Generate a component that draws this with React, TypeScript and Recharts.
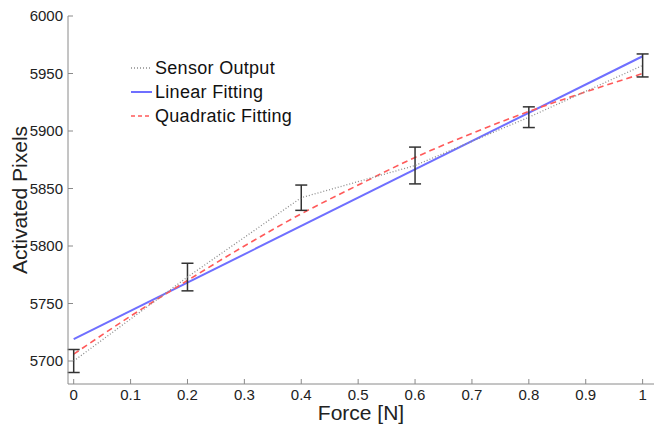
import { ComposedChart, Line, XAxis, YAxis, ErrorBar } from 'recharts';

// force positions where the sensor was sampled
const sensorForce = [0, 0.2, 0.4, 0.6, 0.8, 1];
const sensorOutput = [5700, 5773, 5842, 5870, 5912, 5957];
const sensorError = [10, 12, 11, 16, 9, 10];

// linear fit, read at both ends
const linearForce = [0, 1];
const linearFit = [5719, 5965];

// quadratic fit, read every 0.1 N
const quadForce = [0, 0.1, 0.2, 0.3, 0.4, 0.5, 0.6, 0.7, 0.8, 0.9, 1];
const quadFit = [5706, 5739, 5770, 5800, 5828, 5853, 5877, 5898, 5917, 5934, 5950];

const xTicks = [0, 0.1, 0.2, 0.3, 0.4, 0.5, 0.6, 0.7, 0.8, 0.9, 1];
const yTicks = [5700, 5750, 5800, 5850, 5900, 5950, 6000];

const sensorData = sensorForce.map((f, i) => ({ force: f, value: sensorOutput[i], err: sensorError[i] }));
const linearData = linearForce.map((f, i) => ({ force: f, value: linearFit[i] }));
const quadData = quadForce.map((f, i) => ({ force: f, value: quadFit[i] }));

const FONT = '"Liberation Sans", Arial, sans-serif';
const AXIS = '#8a8a8a';
const TEXT = '#222';

const LEGEND_ITEMS = [
  { label: 'Sensor Output', stroke: '#8c8c8c', dash: '1 2', width: 1.5 },
  { label: 'Linear Fitting', stroke: '#6f6fff', dash: undefined, width: 2 },
  { label: 'Quadratic Fitting', stroke: '#ff5a5a', dash: '4 3', width: 1.5 },
];

function LegendBox() {
  return (
    <div
      style={{
        position: 'absolute',
        left: 130,
        top: 56,
        fontFamily: FONT,
        fontSize: 18,
        color: '#111',
        letterSpacing: 0.3,
        lineHeight: '24px',
      }}
    >
      {LEGEND_ITEMS.map((item) => (
        <div key={item.label} style={{ display: 'flex', alignItems: 'center', height: 24 }}>
          <svg width={24} height={10} style={{ marginRight: 1 }}>
            <line x1={1} y1={5} x2={22} y2={5} stroke={item.stroke} strokeWidth={item.width} strokeDasharray={item.dash} />
          </svg>
          <span>{item.label}</span>
        </div>
      ))}
    </div>
  );
}

export default function App() {
  const tickStyle = { fontSize: 15, fill: TEXT, fontFamily: FONT };
  return (
    <div style={{ position: 'absolute', left: 0, top: 0, width: 655, height: 430, background: '#fff' }}>
      <ComposedChart width={655} height={430} margin={{ top: 16, right: 1, bottom: 0, left: 0 }}>
        <XAxis
          dataKey="force"
          type="number"
          domain={[-0.01, 1.02]}
          ticks={xTicks}
          allowDataOverflow
          height={46}
          tickSize={-5}
          tickMargin={10}
          stroke={AXIS}
          tick={tickStyle}
          tickFormatter={(v) => String(v)}
          label={{ value: 'Force [N]', position: 'insideBottom', offset: 10, fontSize: 21, fill: TEXT, fontFamily: FONT }}
        />
        <XAxis
          xAxisId="top"
          dataKey="force"
          type="number"
          orientation="top"
          domain={[-0.01, 1.02]}
          ticks={xTicks}
          allowDataOverflow
          height={0}
          mirror
          tickSize={5}
          tick={false}
          stroke={AXIS}
        />
        <YAxis
          type="number"
          domain={[5680, 6000]}
          ticks={yTicks}
          allowDataOverflow
          width={68}
          tickSize={-5}
          tickMargin={10}
          stroke={AXIS}
          tick={tickStyle}
        />
        <YAxis
          yAxisId="right"
          type="number"
          orientation="right"
          domain={[5680, 6000]}
          ticks={yTicks}
          allowDataOverflow
          width={0}
          mirror
          tickSize={5}
          tick={false}
          stroke={AXIS}
        />
        <Line
          data={linearData}
          dataKey="value"
          name="Linear Fitting"
          type="linear"
          stroke="#6f6fff"
          strokeWidth={2}
          dot={false}
          isAnimationActive={false}
        />
        <Line
          data={quadData}
          dataKey="value"
          name="Quadratic Fitting"
          type="monotone"
          stroke="#ff5a5a"
          strokeWidth={1.6}
          strokeDasharray="6 4"
          dot={false}
          isAnimationActive={false}
        />
        <Line
          data={sensorData}
          dataKey="value"
          name="Sensor Output"
          type="linear"
          stroke="#8c8c8c"
          strokeWidth={1.3}
          strokeDasharray="1 2"
          dot={false}
          isAnimationActive={false}
        >
          <ErrorBar dataKey="err" direction="y" width={6} stroke="#333" strokeWidth={1.5} isAnimationActive={false} />
        </Line>
        <text
          x={19}
          y={200}
          transform="rotate(-90 19 200)"
          textAnchor="middle"
          dominantBaseline="central"
          fontSize={21}
          fill={TEXT}
          fontFamily={FONT}
        >
          Activated Pixels
        </text>
      </ComposedChart>
      <LegendBox />
    </div>
  );
}
